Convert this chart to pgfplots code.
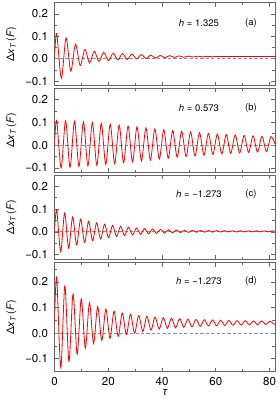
\documentclass[border=0pt]{standalone}
\usepackage{fontspec}
\setmainfont{TeX Gyre Heros}
\usepackage{pgfplots}
\pgfplotsset{compat=1.18}
\definecolor{axgray}{gray}{0.4}
\definecolor{zgray}{gray}{0.55}
\pgfplotsset{
 panel/.style={
  scale only axis, width=220.5pt, xmin=0, xmax=82, ymin=-0.12, ymax=0.25,
  axis line style={axgray, line width=0.8pt},
  every tick/.style={axgray, line width=0.8pt},
  major tick length=4pt, minor tick length=2.5pt,
  tick align=inside,
  xtick={0,20,40,60,80}, minor xtick={10,30,50,70},
  ytick={-0.1,0,0.1,0.2}, yticklabels={−0.1,0.0,0.1,0.2},
  minor ytick={-0.15,-0.05,0.05,0.15,0.25},
  xticklabels={},
  tick label style={font=\fontsize{11.5}{13}\selectfont},
  yticklabel style={xshift=-3pt},
  ylabel={Δ\textit{x}\textsubscript{\textit{T}}\,(\textit{F})},
  ylabel style={at={(axis description cs:-0.195,0.5)}, anchor=center, font=\fontsize{10.5}{12}\selectfont},
 },
 zline/.style={zgray, dash pattern=on 3.2pt off 2.2pt, line width=1pt, forget plot},
 curve/.style={red, line width=0.8pt, smooth},
}
\newcommand{\annfont}{\fontsize{9.5}{11}\selectfont}
\begin{document}
\begin{tikzpicture}
\useasboundingbox (0,0) rectangle (279pt,407pt);
% (a)
\begin{axis}[panel, at={(54.5pt,321.3pt)}, anchor=south west, height=83pt]
\addplot[zline] coordinates {(0,0) (82,0)};
\addplot[curve] coordinates {(0,0.0) (0.8,0.113) (2.55,-0.087) (4.3,0.093) (6.05,-0.055) (7.8,0.065) (9.55,-0.030) (11.3,0.042) (13.05,-0.018) (14.8,0.034) (16.55,-0.012) (18.3,0.029) (20.05,-0.008) (21.8,0.025) (23.55,-0.005) (25.3,0.023) (27.05,-0.003) (28.8,0.021) (30.55,-0.001) (32.3,0.019) (34.05,0.001) (35.8,0.017) (37.55,0.003) (39.3,0.015) (41.05,0.005) (42.8,0.014) (44.55,0.006) (46.3,0.013) (48.05,0.007) (49.8,0.012) (51.55,0.008) (53.3,0.0115) (55.05,0.0085) (56.8,0.011) (58.55,0.009) (60.3,0.0105) (62.05,0.0095) (63.8,0.0103) (65.55,0.0097) (67.3,0.0102) (69.05,0.0098) (75,0.01) (82,0.01)};
\node[font=\annfont] at (axis description cs:0.655,0.76) {\textit{h} = 1.325};
\node[font=\annfont] at (axis description cs:0.891,0.76) {(a)};
\end{axis}
% (b)
\begin{axis}[panel, at={(54.5pt,234.5pt)}, anchor=south west, height=84.2pt]
\addplot[zline] coordinates {(0,0) (82,0)};
\addplot[curve] coordinates {(0,0.0) (0.8,0.110) (2.46,-0.100) (4.12,0.108) (5.78,-0.097) (7.44,0.105) (9.1,-0.094) (10.76,0.102) (12.42,-0.091) (14.08,0.099) (15.74,-0.088) (17.4,0.095) (19.06,-0.084) (20.72,0.092) (22.38,-0.081) (24.04,0.088) (25.7,-0.077) (27.36,0.084) (29.02,-0.073) (30.68,0.080) (32.34,-0.069) (34.0,0.076) (35.66,-0.065) (37.32,0.072) (38.98,-0.061) (40.64,0.068) (42.3,-0.057) (43.96,0.064) (45.62,-0.053) (47.28,0.061) (48.94,-0.050) (50.6,0.058) (52.26,-0.047) (53.92,0.055) (55.58,-0.044) (57.24,0.052) (58.9,-0.041) (60.56,0.049) (62.22,-0.038) (63.88,0.047) (65.54,-0.036) (67.2,0.045) (68.86,-0.034) (70.52,0.043) (72.18,-0.032) (73.84,0.041) (75.5,-0.030) (77.16,0.039) (78.82,-0.028) (80.48,0.038) (82,0.005)};
\node[font=\annfont] at (axis description cs:0.655,0.762) {\textit{h} = 0.573};
\node[font=\annfont] at (axis description cs:0.891,0.762) {(b)};
\end{axis}
% (c)
\begin{axis}[panel, at={(54.5pt,147.7pt)}, anchor=south west, height=84.3pt]
\addplot[zline] coordinates {(0,0) (82,0)};
\addplot[curve] coordinates {(0,0.0) (0.8,0.098) (2.29,-0.086) (3.77,0.083) (5.26,-0.071) (6.74,0.066) (8.23,-0.056) (9.71,0.056) (11.2,-0.046) (12.68,0.047) (14.17,-0.038) (15.65,0.040) (17.14,-0.031) (18.62,0.034) (20.11,-0.025) (21.59,0.029) (23.08,-0.020) (24.56,0.025) (26.05,-0.016) (27.53,0.021) (29.02,-0.013) (30.5,0.018) (31.99,-0.010) (33.47,0.015) (34.96,-0.008) (36.44,0.013) (37.93,-0.006) (39.41,0.011) (40.9,-0.005) (42.38,0.010) (43.87,-0.004) (45.35,0.009) (46.84,-0.003) (48.32,0.008) (49.81,-0.002) (51.29,0.0075) (52.78,-0.0015) (54.26,0.007) (55.75,-0.001) (57.23,0.0065) (58.72,-0.0008) (60.2,0.006) (61.69,-0.0005) (63.17,0.0058) (64.66,-0.0003) (66.14,0.0055) (67.63,-0.0002) (69.11,0.0053) (70.6,0.0) (72.08,0.005) (73.57,0.0002) (75.05,0.005) (76.54,0.0003) (78.02,0.0048) (79.51,0.0004) (80.99,0.0047) (82,0.003)};
\node[font=\annfont] at (axis description cs:0.655,0.77) {\textit{h} = −1.273};
\node[font=\annfont] at (axis description cs:0.891,0.77) {(c)};
\end{axis}
% (d)
\begin{axis}[panel, at={(54.5pt,35.3pt)}, anchor=south west, height=109pt, ymin=-0.15, ymax=0.275,
  xticklabels={0,20,40,60,80}, xticklabel style={yshift=-2pt},
  xlabel={\textit{τ}}, xlabel style={at={(axis description cs:0.5,-0.19)}, anchor=center, font=\fontsize{11.5}{13}\selectfont}]
\addplot[zline] coordinates {(0,0) (82,0)};
\addplot[curve] coordinates {(0,0.04) (0.8,0.220) (2.325,-0.134) (3.85,0.184) (5.375,-0.110) (6.9,0.153) (8.425,-0.082) (9.95,0.134) (11.475,-0.058) (13.0,0.119) (14.525,-0.040) (16.05,0.104) (17.575,-0.028) (19.1,0.094) (20.625,-0.020) (22.15,0.086) (23.675,-0.012) (25.2,0.079) (26.725,-0.005) (28.25,0.074) (29.775,0.000) (31.3,0.069) (32.825,0.007) (34.35,0.066) (35.875,0.012) (37.4,0.063) (38.925,0.016) (40.45,0.061) (41.975,0.019) (43.5,0.059) (45.025,0.021) (46.55,0.057) (48.075,0.023) (49.6,0.055) (51.125,0.025) (52.65,0.054) (54.175,0.027) (55.7,0.053) (57.225,0.028) (58.75,0.052) (60.275,0.029) (61.8,0.051) (63.325,0.030) (64.85,0.050) (66.375,0.031) (67.9,0.049) (69.425,0.032) (70.95,0.049) (72.475,0.033) (74.0,0.048) (75.525,0.033) (77.05,0.048) (78.575,0.034) (80.1,0.047) (81.625,0.035) (82,0.036)};
\node[font=\annfont] at (axis description cs:0.655,0.832) {\textit{h} = −1.273};
\node[font=\annfont] at (axis description cs:0.891,0.832) {(d)};
\end{axis}
\end{tikzpicture}
\end{document}
